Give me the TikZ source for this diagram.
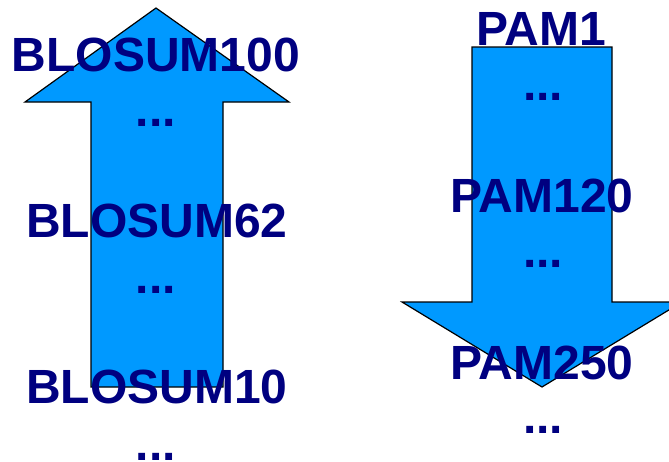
\documentclass[tikz,border=0pt]{standalone}
\usepackage{fontspec}
\setmainfont{Liberation Sans}
\definecolor{arrowblue}{HTML}{0099FF}
\definecolor{labelnavy}{HTML}{000080}
\begin{document}
\begin{tikzpicture}[x=1pt,y=-1pt,
  bigarrow/.style={draw=black,line width=1.2pt,fill=arrowblue,line join=miter},
  lbl/.style={anchor=base,inner sep=0pt,text=labelnavy,font=\fontsize{48}{48}\selectfont\bfseries}]
\useasboundingbox (0,0) rectangle (669,461);
% up arrow
\draw[bigarrow] (156,8) -- (289,102) -- (223,102) -- (223,387) -- (91,387) -- (91,102) -- (25,102) -- cycle;
% down arrow
\draw[bigarrow] (472,47) -- (612,47) -- (612,302) -- (682,302) -- (542,387) -- (402,302) -- (472,302) -- cycle;
% left labels
\node[lbl] (b100) at (156,71) {BLOSUM100};
\node[lbl] (d1) at (156,126) {...};
\node[lbl] (b62) at (157,237) {BLOSUM62};
\node[lbl] (d2) at (156,293) {...};
\node[lbl] (b10) at (157,403) {BLOSUM10};
\node[lbl] (d3) at (156,460) {...};
% right labels
\node[lbl] (p1) at (541,45) {PAM1};
\node[lbl] (d4) at (543,100) {...};
\node[lbl] (p120) at (542,212) {PAM120};
\node[lbl] (d5) at (543,267) {...};
\node[lbl] (p250) at (542,379) {PAM250};
\node[lbl] (d6) at (543,433) {...};
\end{tikzpicture}
\end{document}
